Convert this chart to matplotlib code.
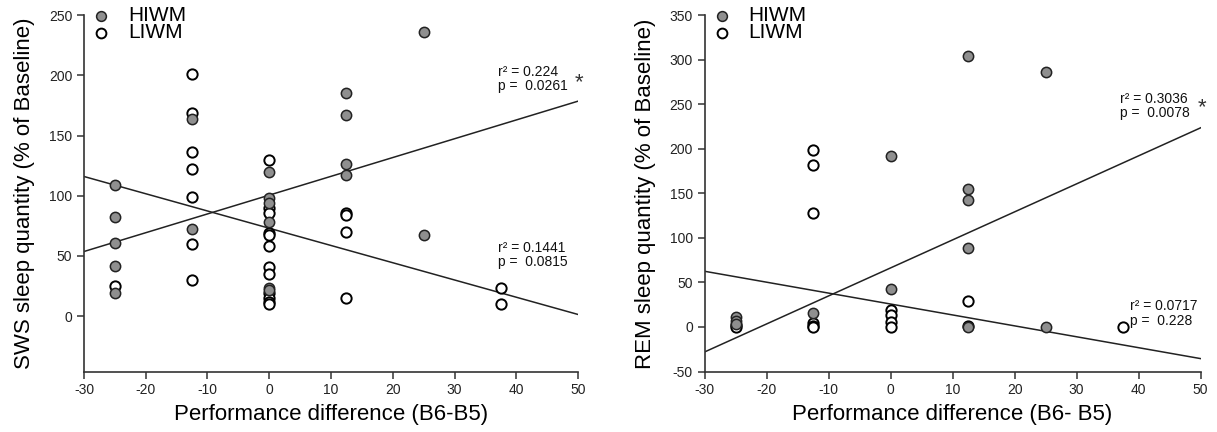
import numpy as np
import matplotlib.pyplot as plt

plt.rcParams['font.family'] = ['Liberation Sans', 'DejaVu Sans']
plt.rcParams['axes.unicode_minus'] = False

# === Data ===
# SWS panel
sws_hiwm_x = [-25, -25, -25, -25, -25, -12.5, -12.5, 0, 0, 0, 0, 0, 0, 12.5, 12.5, 12.5, 12.5, 25, 25]
sws_hiwm_y = [109, 82, 61, 42, 19, 164, 72, 120, 98, 94, 78, 23, 22, 185, 167, 126, 117, 236, 67]
sws_liwm_x = [-25, -12.5, -12.5, -12.5, -12.5, -12.5, -12.5, -12.5,
              0, 0, 0, 0, 0, 0, 0, 0, 0, 0, 0, 0, 12.5, 12.5, 12.5, 12.5, 37.5, 37.5]
sws_liwm_y = [25, 201, 169, 136, 122, 99, 60, 30,
              130, 90, 86, 69, 67, 58, 41, 35, 19, 15, 12, 10, 86, 84, 70, 15, 23, 10]
# REM panel
rem_hiwm_x = [-25, -25, -25, -12.5, 0, 0, 12.5, 12.5, 12.5, 12.5, 12.5, 25, 25]
rem_hiwm_y = [11, 7, 3, 16, 192, 43, 304, 155, 142, 89, 0, 286, 0]
rem_liwm_x = [-25, -25, -12.5, -12.5, -12.5, -12.5, -12.5, -12.5, 0, 0, 0, 0, 12.5, 12.5, 37.5]
rem_liwm_y = [2, 0, 199, 182, 128, 4, 1, 0, 19, 13, 6, 0, 29, 1, 0]

# regression lines (slope, intercept) as drawn in the figure
sws_fit_hiwm = (1.561, 100.5)
sws_fit_liwm = (-1.4325, 73.0)
rem_fit_hiwm = (3.144, 66.3)
rem_fit_liwm = (-1.225, 25.75)

# (text, x, y of text bottom, star y or None)
sws_stats = [("r² = 0.224\np =  0.0261", 37.0, 185, 194), ("r² = 0.1441\np =  0.0815", 37.0, 39, None)]
rem_stats = [("r² = 0.3036\np =  0.0078", 37.0, 232, 246), ("r² = 0.0717\np =  0.228", 38.6, -1, None)]

fill_col = "#8f8f8f"


def draw_panel(ax, hx, hy, lx, ly, fit_h, fit_l, stats, ylim, yticks, ylabel, xlabel):
    xs = np.array([-30, 50])
    for slope, icpt in (fit_h, fit_l):
        ax.plot(xs, slope * xs + icpt, color="#222222", lw=1.1, zorder=1)
    ax.scatter(lx, ly, s=55, facecolor="white", edgecolor="black", linewidth=1.4, zorder=3, label="LIWM")
    ax.scatter(hx, hy, s=55, facecolor=fill_col, edgecolor="#222222", linewidth=1.1, zorder=4, label="HIWM")
    for txt, tx, ty, star in stats:
        ax.text(tx, ty, txt, fontsize=10, ha="left", va="bottom", linespacing=1.05, color="#111111")
        if star is not None:
            ax.text(50.2, star, "*", fontsize=16, ha="center", va="center", color="#333333")
    ax.set_xlim(-30, 50)
    ax.set_ylim(*ylim)
    ax.set_xticks(range(-30, 51, 10))
    ax.set_yticks(yticks)
    for s in ("top", "right"):
        ax.spines[s].set_visible(False)
    for s in ("left", "bottom"):
        ax.spines[s].set_color("#333333")
        ax.spines[s].set_linewidth(1.2)
    ax.tick_params(direction="out", length=5, width=1.1, labelsize=10, colors="#333333", labelcolor="#222222")
    ax.set_ylabel(ylabel, fontsize=16, labelpad=10)
    ax.set_xlabel(xlabel, fontsize=16, labelpad=5)
    handles, labels = ax.get_legend_handles_labels()
    ax.legend(handles[::-1], labels[::-1], loc="upper left", bbox_to_anchor=(-0.033, 1.06),
              frameon=False, fontsize=15, handletextpad=0.3, labelspacing=-0.1,
              borderaxespad=0.2, markerscale=0.95)


fig = plt.figure(figsize=(12.17, 4.32), dpi=100)
ax1 = fig.add_axes([0.069, 0.14, 0.406, 0.825])
ax2 = fig.add_axes([0.579, 0.14, 0.4075, 0.825])

draw_panel(ax1, sws_hiwm_x, sws_hiwm_y, sws_liwm_x, sws_liwm_y, sws_fit_hiwm, sws_fit_liwm,
           sws_stats, (-46, 250), [0, 50, 100, 150, 200, 250],
           "SWS sleep quantity (% of Baseline)", "Performance difference (B6-B5)")
draw_panel(ax2, rem_hiwm_x, rem_hiwm_y, rem_liwm_x, rem_liwm_y, rem_fit_hiwm, rem_fit_liwm,
           rem_stats, (-50, 350), [-50, 0, 50, 100, 150, 200, 250, 300, 350],
           "REM sleep quantity (% of Baseline)", "Performance difference (B6- B5)")

fig.savefig("out.png", dpi=100)
